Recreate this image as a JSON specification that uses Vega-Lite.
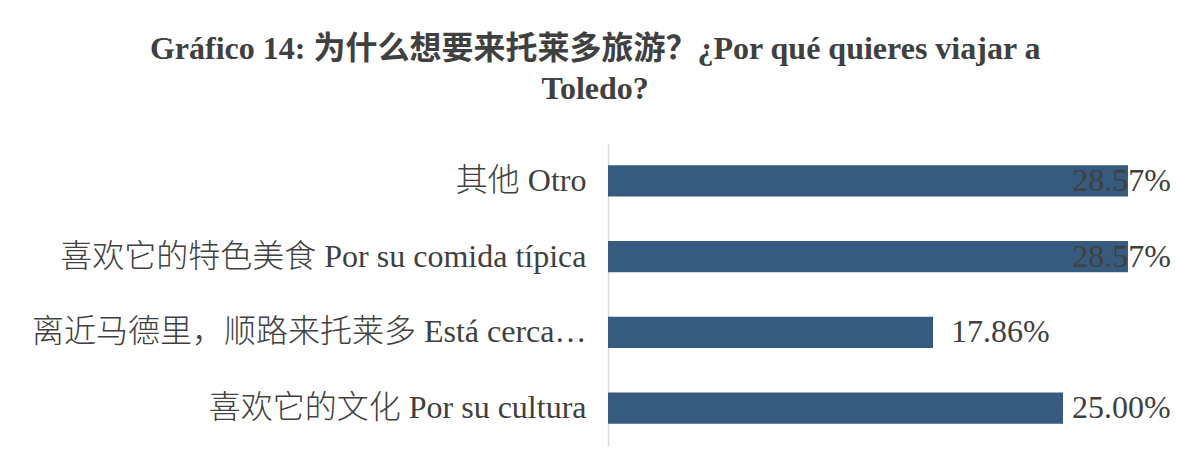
{
  "$schema": "https://vega.github.io/schema/vega-lite/v6.json",
  "width": 546,
  "height": 303,
  "autosize": {"type": "none"},
  "padding": {"left": 608, "top": 143, "right": 24, "bottom": 20},
  "background": "white",
  "title": {
    "text": ["Gráfico 14: 为什么想要来托莱多旅游？¿Por qué quieres viajar a", "Toledo?"],
    "font": "Liberation Serif, Noto Sans CJK SC",
    "fontSize": 32,
    "fontWeight": "bold",
    "color": "#404040",
    "anchor": "middle",
    "frame": "bounds",
    "dx": -6,
    "offset": 37,
    "lineHeight": 40
  },
  "config": {"view": {"stroke": null}},
  "data": {
    "values": [
      {"label": "其他 Otro", "value": 0.2857},
      {"label": "喜欢它的特色美食 Por su comida típica", "value": 0.2857},
      {"label": "离近马德里，顺路来托莱多 Está cerca…", "value": 0.1786},
      {"label": "喜欢它的文化 Por su cultura", "value": 0.25}
    ]
  },
  "encoding": {
    "y": {
      "field": "label",
      "type": "nominal",
      "sort": null,
      "scale": {"paddingInner": 0.59, "paddingOuter": 0.295},
      "axis": {
        "title": null,
        "ticks": false,
        "domainColor": "#d9d9d9",
        "domainWidth": 1.5,
        "labelPadding": 22,
        "labelFontSize": 32,
        "labelFontWeight": 300,
        "labelFont": "Liberation Serif, Noto Sans CJK SC",
        "labelColor": "#404040",
        "labelLimit": 700
      }
    },
    "x": {
      "field": "value",
      "type": "quantitative",
      "scale": {"domain": [0, 0.3]},
      "axis": null
    }
  },
  "layer": [
    {"mark": {"type": "bar", "color": "#375b7e"}},
    {
      "transform": [{"filter": "datum.value < 0.2"}],
      "mark": {"type": "text", "align": "left", "baseline": "middle", "dx": 18, "font": "Liberation Serif", "fontSize": 32, "color": "#404040"},
      "encoding": {"text": {"field": "value", "type": "quantitative", "format": ".2%"}}
    },
    {
      "transform": [{"filter": "datum.value >= 0.2 && datum.value < 0.27"}],
      "mark": {"type": "text", "align": "left", "baseline": "middle", "dx": 9, "font": "Liberation Serif", "fontSize": 32, "color": "#404040"},
      "encoding": {"text": {"field": "value", "type": "quantitative", "format": ".2%"}}
    },
    {
      "transform": [{"filter": "datum.value >= 0.27"}],
      "mark": {"type": "text", "align": "right", "baseline": "middle", "dx": 43, "font": "Liberation Serif", "fontSize": 32, "color": "#404040"},
      "encoding": {"text": {"field": "value", "type": "quantitative", "format": ".2%"}}
    }
  ]
}
